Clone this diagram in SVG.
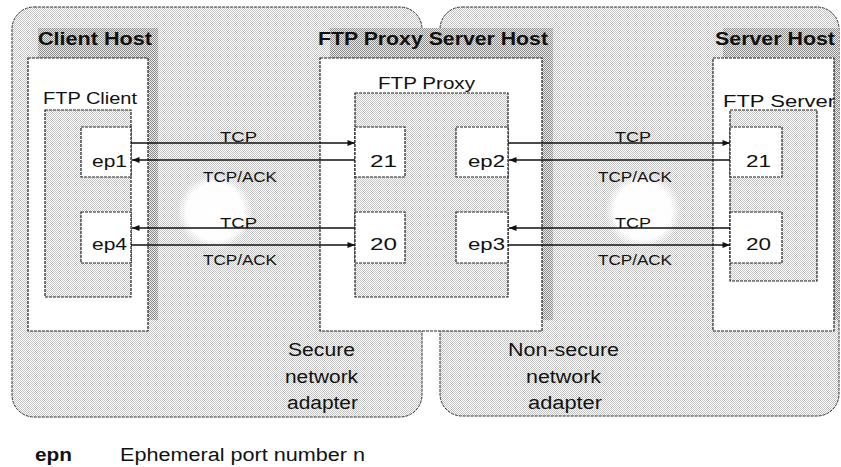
<svg xmlns="http://www.w3.org/2000/svg" width="841" height="467" viewBox="0 0 841 467">
<defs>
<pattern id="lt" patternUnits="userSpaceOnUse" width="2" height="2"><rect width="2" height="2" fill="#ffffff"/><rect width="1" height="1" fill="#c2c2c2"/><rect x="1" y="1" width="1" height="1" fill="#c2c2c2"/></pattern>
<pattern id="dk" patternUnits="userSpaceOnUse" width="2" height="2"><rect width="2" height="2" fill="#ececec"/><rect width="1" height="1" fill="#8a8a8a"/><rect x="1" y="1" width="1" height="1" fill="#8a8a8a"/></pattern>
<radialGradient id="glow"><stop offset="0" stop-color="#fff" stop-opacity="1"/><stop offset="0.75" stop-color="#fff" stop-opacity="0.95"/><stop offset="1" stop-color="#fff" stop-opacity="0"/></radialGradient>
<marker id="ah" viewBox="0 0 10 8" refX="10" refY="4" markerWidth="8" markerHeight="6" markerUnits="userSpaceOnUse" orient="auto"><path d="M0,0 L10,4 L0,8 z" fill="#111"/></marker>
</defs>
<style>
.region{fill:url(#lt);stroke:#333;stroke-width:1;stroke-dasharray:3 1}
.shadow{fill:url(#dk);stroke:none}
.host{fill:#fff;stroke:#222;stroke-width:1.2;stroke-dasharray:3 1}
.proc{fill:url(#lt);stroke:#222;stroke-width:1.2;stroke-dasharray:3 1}
.port{fill:#fff;stroke:#222;stroke-width:1.2;stroke-dasharray:3 1}
text{font-family:"Liberation Sans",Arial,sans-serif;fill:#111}
.hl{font-size:18px;font-weight:bold}
.pl{font-size:16px}
.nl{font-size:17px}
.cl{font-size:14px}
.al{font-size:18px}
.conn{stroke:#111;stroke-width:1.5;fill:none;marker-end:url(#ah)}
</style>
<rect width="841" height="467" fill="#fff"/>
<g id="secure-region">
<rect class="region" x="12" y="7" width="410" height="410" rx="22"/>
</g>
<g id="nonsecure-region">
<rect class="region" x="440" y="7" width="399" height="409" rx="22"/>
</g>
<circle cx="215" cy="212" r="38" fill="url(#glow)"/>
<circle cx="643" cy="211" r="38" fill="url(#glow)"/>
<g id="client-host">
<rect class="shadow" x="38" y="28" width="120" height="292"/>
<rect class="host" x="28" y="58" width="120" height="273"/>
<text class="hl" x="38" y="45" textLength="114" lengthAdjust="spacingAndGlyphs">Client Host</text>
</g>
<g id="ftp-client">
<text class="pl" x="43" y="104" textLength="94" lengthAdjust="spacingAndGlyphs">FTP Client</text>
<rect class="proc" x="45" y="110" width="86" height="187"/>
</g>
<g id="ep1"><rect class="port" x="81" y="127" width="50" height="50"/><text class="nl" x="92" y="167" textLength="35" lengthAdjust="spacingAndGlyphs">ep1</text></g>
<g id="ep4"><rect class="port" x="81" y="212" width="50" height="51"/><text class="nl" x="92" y="250" textLength="35" lengthAdjust="spacingAndGlyphs">ep4</text></g>
<g id="proxy-host">
<rect class="shadow" x="330" y="28" width="223" height="292"/>
<rect class="host" x="320" y="58" width="222" height="273"/>
<text class="hl" x="318" y="45" textLength="230" lengthAdjust="spacingAndGlyphs">FTP Proxy Server Host</text>
</g>
<g id="ftp-proxy">
<text class="pl" x="378" y="89" textLength="97" lengthAdjust="spacingAndGlyphs">FTP Proxy</text>
<rect class="proc" x="355" y="93" width="153" height="204"/>
</g>
<g id="proxy-21"><rect class="port" x="355" y="127" width="50" height="50"/><text class="nl" x="370" y="167" textLength="27" lengthAdjust="spacingAndGlyphs">21</text></g>
<g id="proxy-20"><rect class="port" x="355" y="212" width="50" height="51"/><text class="nl" x="370" y="250" textLength="27" lengthAdjust="spacingAndGlyphs">20</text></g>
<g id="ep2"><rect class="port" x="456" y="127" width="52" height="50"/><text class="nl" x="468" y="167" textLength="37" lengthAdjust="spacingAndGlyphs">ep2</text></g>
<g id="ep3"><rect class="port" x="456" y="212" width="52" height="51"/><text class="nl" x="468" y="250" textLength="37" lengthAdjust="spacingAndGlyphs">ep3</text></g>
<g id="server-host">
<rect class="shadow" x="723" y="28" width="116" height="292"/>
<rect class="host" x="713" y="58" width="121" height="273"/>
<text class="hl" x="715" y="45" textLength="120" lengthAdjust="spacingAndGlyphs">Server Host</text>
</g>
<g id="ftp-server">
<rect class="proc" x="730" y="110" width="87" height="171"/>
<text class="pl" x="723" y="107" textLength="112" lengthAdjust="spacingAndGlyphs">FTP Server</text>
</g>
<g id="server-21"><rect class="port" x="730" y="127" width="52" height="50"/><text class="nl" x="746" y="167" textLength="25" lengthAdjust="spacingAndGlyphs">21</text></g>
<g id="server-20"><rect class="port" x="730" y="212" width="52" height="51"/><text class="nl" x="746" y="250" textLength="25" lengthAdjust="spacingAndGlyphs">20</text></g>
<g id="connectors">
<line class="conn" x1="131" y1="143" x2="355" y2="143"/>
<line class="conn" x1="355" y1="160" x2="132" y2="160"/>
<line class="conn" x1="355" y1="228" x2="132" y2="228"/>
<line class="conn" x1="131" y1="245" x2="355" y2="245"/>
<line class="conn" x1="508" y1="143" x2="730" y2="143"/>
<line class="conn" x1="730" y1="160" x2="509" y2="160"/>
<line class="conn" x1="730" y1="228" x2="509" y2="228"/>
<line class="conn" x1="508" y1="245" x2="730" y2="245"/>
<text class="cl" x="220" y="142" textLength="37" lengthAdjust="spacingAndGlyphs">TCP</text>
<text class="cl" x="203" y="182" textLength="74" lengthAdjust="spacingAndGlyphs">TCP/ACK</text>
<text class="cl" x="220" y="228" textLength="37" lengthAdjust="spacingAndGlyphs">TCP</text>
<text class="cl" x="203" y="265" textLength="74" lengthAdjust="spacingAndGlyphs">TCP/ACK</text>
<text class="cl" x="615" y="142" textLength="36" lengthAdjust="spacingAndGlyphs">TCP</text>
<text class="cl" x="598" y="182" textLength="74" lengthAdjust="spacingAndGlyphs">TCP/ACK</text>
<text class="cl" x="615" y="228" textLength="36" lengthAdjust="spacingAndGlyphs">TCP</text>
<text class="cl" x="598" y="265" textLength="74" lengthAdjust="spacingAndGlyphs">TCP/ACK</text>
</g>
<g id="secure-label">
<text class="al" x="288" y="356" textLength="67" lengthAdjust="spacingAndGlyphs">Secure</text>
<text class="al" x="285" y="383" textLength="73" lengthAdjust="spacingAndGlyphs">network</text>
<text class="al" x="287" y="409" textLength="71" lengthAdjust="spacingAndGlyphs">adapter</text>
</g>
<g id="nonsecure-label">
<text class="al" x="508" y="356" textLength="111" lengthAdjust="spacingAndGlyphs">Non-secure</text>
<text class="al" x="526" y="383" textLength="75" lengthAdjust="spacingAndGlyphs">network</text>
<text class="al" x="528" y="409" textLength="74" lengthAdjust="spacingAndGlyphs">adapter</text>
</g>
<g id="legend">
<text class="al" x="35" y="461" font-weight="bold" textLength="37" lengthAdjust="spacingAndGlyphs">epn</text>
<text class="al" x="120" y="461" textLength="245" lengthAdjust="spacingAndGlyphs">Ephemeral port number n</text>
</g>
</svg>
